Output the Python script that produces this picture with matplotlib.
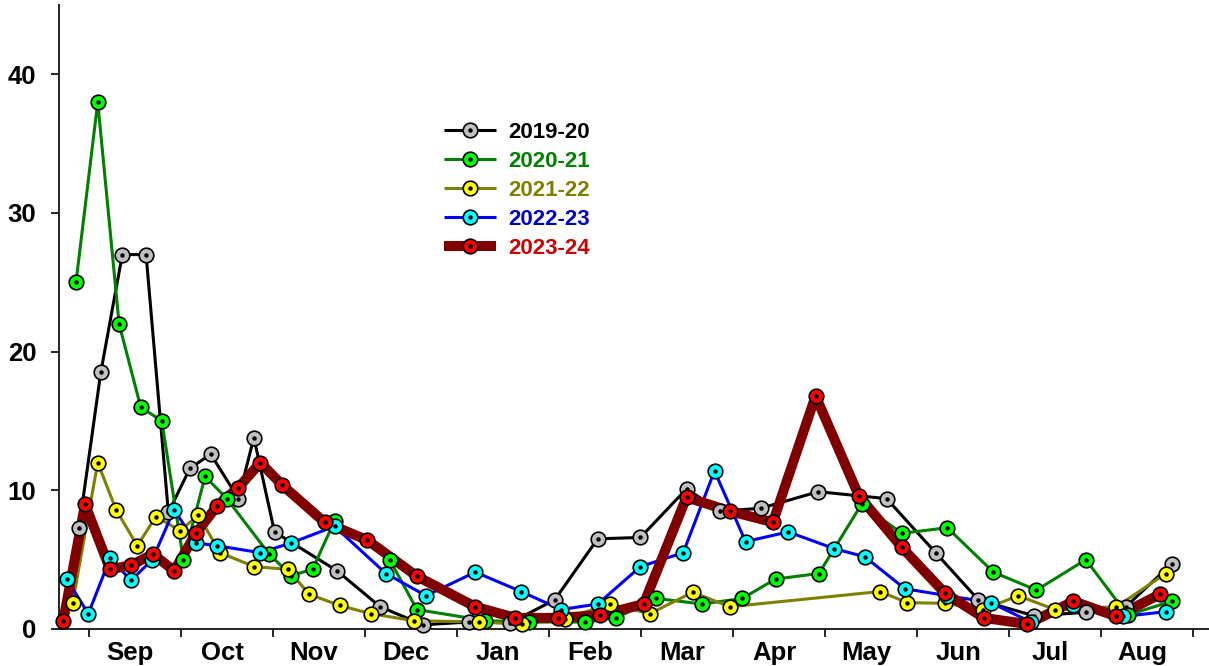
import matplotlib.pyplot as plt
from matplotlib.lines import Line2D
from matplotlib.legend_handler import HandlerTuple

plt.rcParams['font.family'] = ['Liberation Sans', 'DejaVu Sans']
plt.rcParams['font.weight'] = 'bold'

months = ['Sep', 'Oct', 'Nov', 'Dec', 'Jan', 'Feb',
          'Mar', 'Apr', 'May', 'Jun', 'Jul', 'Aug']
seasons = ['2019-20', '2020-21', '2021-22', '2022-23', '2023-24']

# x = time in months counted from 1 September, y = weekly value
x_1920 = [-0.103, 0.133, 0.367, 0.625, 0.867, 1.103, 1.328, 1.628, 1.796, 2.020,
          2.698, 3.168, 3.633, 4.128, 4.582, 5.063, 5.530, 5.995, 6.495, 6.864,
          7.299, 7.926, 8.668, 9.201, 9.665, 10.270, 10.832, 11.266, 11.766]
y_1920 = [7.3, 18.5, 27.0, 27.0, 8.4, 11.6, 12.6, 9.4, 13.8, 7.0,
          4.2, 1.6, 0.3, 0.5, 0.45, 2.1, 6.5, 6.6, 10.1, 8.5,
          8.7, 9.9, 9.4, 5.5, 2.1, 0.95, 1.2, 1.6, 4.7]

x_2021 = [-0.136, 0.100, 0.332, 0.567, 0.796, 1.030, 1.266, 1.502, 1.962, 2.201,
          2.433, 2.672, 3.270, 3.567, 4.310, 4.780, 5.397, 5.730, 6.168, 6.665,
          7.100, 7.462, 7.933, 8.397, 8.832, 9.328, 9.828, 10.296, 10.832, 11.285,
          11.766]
y_2021 = [25.0, 38.0, 22.0, 16.0, 15.0, 5.0, 11.0, 9.4, 5.4, 3.85,
          4.3, 7.8, 5.0, 1.4, 0.6, 0.5, 0.5, 0.8, 2.2, 1.8,
          2.2, 3.6, 4.0, 9.0, 6.9, 7.3, 4.1, 2.8, 5.0, 1.0,
          2.0]

x_2122 = [-0.172, 0.100, 0.299, 0.530, 0.730, 0.995, 1.193, 1.429, 1.799, 2.165,
          2.397, 2.726, 3.067, 3.530, 4.237, 4.709, 5.172, 5.668, 6.096, 6.563,
          6.965, 8.596, 8.893, 9.299, 9.720, 10.096, 10.498, 11.165, 11.701]
y_2122 = [1.9, 12.0, 8.6, 6.0, 8.1, 7.1, 8.2, 5.5, 4.5, 4.3,
          2.5, 1.7, 1.1, 0.6, 0.5, 0.35, 0.75, 1.8, 1.1, 2.65,
          1.6, 2.7, 1.9, 1.85, 1.4, 2.4, 1.4, 1.6, 4.0]

x_2223 = [-0.237, -0.002, 0.234, 0.462, 0.693, 0.929, 1.168, 1.400, 1.867, 2.198,
          2.672, 3.230, 3.665, 4.201, 4.698, 5.133, 5.530, 5.995, 6.459, 6.799,
          7.136, 7.600, 8.096, 8.433, 8.867, 9.328, 9.799, 10.234, 10.698, 11.241,
          11.701]
y_2223 = [3.6, 1.1, 5.1, 3.5, 5.0, 8.6, 6.2, 6.0, 5.5, 6.2,
          7.4, 4.0, 2.4, 4.1, 2.7, 1.4, 1.8, 4.5, 5.5, 11.4,
          6.3, 7.0, 5.8, 5.2, 2.9, 2.4, 1.9, 0.5, 1.7, 0.9,
          1.25]

x_2324 = [-0.274, -0.038, 0.234, 0.462, 0.701, 0.929, 1.168, 1.400, 1.628, 1.867,
          2.100, 2.563, 3.030, 3.567, 4.201, 4.636, 5.100, 5.560, 6.030, 6.495,
          6.965, 7.433, 7.897, 8.367, 8.832, 9.299, 9.726, 10.198, 10.698, 11.165,
          11.636]
y_2324 = [0.6, 9.0, 4.3, 4.6, 5.4, 4.2, 6.9, 8.9, 10.2, 12.0,
          10.4, 7.7, 6.4, 3.8, 1.6, 0.8, 0.8, 1.0, 1.8, 9.5,
          8.5, 7.7, 16.8, 9.6, 5.9, 2.6, 0.8, 0.35, 2.0, 0.9,
          2.5]

xs = [x_1920, x_2021, x_2122, x_2223, x_2324]
ys = [y_1920, y_2021, y_2122, y_2223, y_2324]

line_colors = ['black', '#008000', '#808000', '#0000ff', '#800000']
face_colors = ['#c0c0c0', '#00ff00', '#ffff00', '#00ffff', '#ff0000']
text_colors = ['black', '#008000', '#808000', '#0000cc', '#cc0000']
widths = [2.2, 2.2, 2.2, 2.2, 7.2]

fig = plt.figure(figsize=(12.09, 6.66), dpi=100)
ax = fig.add_axes([0.0484, 0.0556, 0.9516, 0.9369])

handles = []
for i in range(5):
    ax.plot(xs[i], ys[i], color=line_colors[i], lw=widths[i],
            solid_joinstyle='round', zorder=2 + i * 0.01, clip_on=False)
    ax.plot(xs[i], ys[i], ls='none', marker='o', ms=10.5, mfc=face_colors[i],
            mec='black', mew=1.2, zorder=3 + i * 0.01, clip_on=False)
    ax.plot(xs[i], ys[i], ls='none', marker='o', ms=2.2, color='black',
            zorder=3.005 + i * 0.01, clip_on=False)
    h1 = Line2D([], [], color=line_colors[i], lw=widths[i], marker='o', ms=10.5,
                mfc=face_colors[i], mec='black', mew=1.2, solid_capstyle='butt')
    h2 = Line2D([], [], ls='none', marker='o', ms=2.2, color='black')
    handles.append((h1, h2))

leg = ax.legend(handles, seasons, handler_map={tuple: HandlerTuple(ndivide=1)},
                loc='upper left', bbox_to_anchor=(0.367, 0.817),
                bbox_transform=fig.transFigure, frameon=False,
                borderpad=0, borderaxespad=0, handlelength=2.35,
                handletextpad=0.55, labelspacing=0.36,
                prop={'size': 16, 'weight': 'bold'})
for t, c in zip(leg.get_texts(), text_colors):
    t.set_color(c)

ax.set_xlim(-0.326, 12.17)
ax.set_ylim(0, 45)

ax.spines['top'].set_visible(False)
ax.spines['right'].set_visible(False)
for s in ['left', 'bottom']:
    ax.spines[s].set_linewidth(1.4)
    ax.spines[s].set_color('#222222')

ax.set_yticks([0, 10, 20, 30, 40])
ax.tick_params(axis='y', length=6, width=1.2, pad=10, labelsize=18.5)

ax.set_xticks(range(13))
ax.set_xticklabels([])
ax.set_xticks([m + 0.45 for m in range(12)], minor=True)
ax.set_xticklabels(months, minor=True)
ax.tick_params(axis='x', which='major', length=6, width=1.2)
ax.tick_params(axis='x', which='minor', length=0, pad=9, labelsize=18.5)

fig.savefig('out.png', dpi=100)
